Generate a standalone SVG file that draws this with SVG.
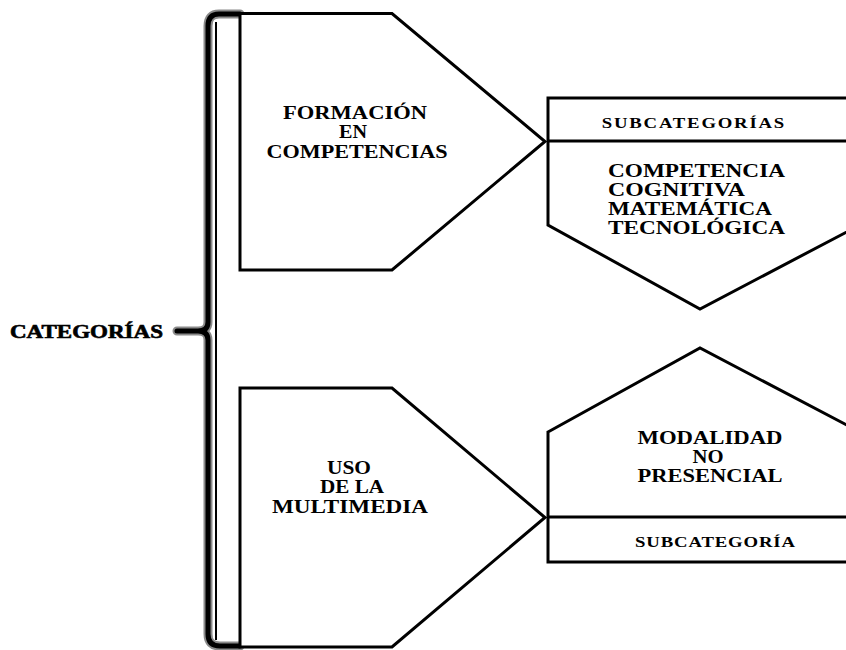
<svg xmlns="http://www.w3.org/2000/svg" width="846" height="650" viewBox="0 0 846 650">
<style>
.shape{fill:#fff;stroke:#000;stroke-width:3;stroke-linejoin:miter}
.line{fill:none;stroke:#000;stroke-width:3}
.t{font-family:"Liberation Serif","Times New Roman",serif;font-weight:bold;fill:#000}
.big{font-size:19px}
.small{font-size:15px}
.brG{fill:none;stroke:#8a8a8a;stroke-width:9;stroke-linejoin:round;stroke-linecap:round}
.brB{fill:none;stroke:#000;stroke-width:5;stroke-linejoin:round;stroke-linecap:round}
</style>
<rect width="846" height="650" fill="#fff"/>
<g id="connectors">
  <path class="brG" d="M240 14 L219 14 Q208 14 208 26 L208 322 Q208 331 198 331 L177 331 M198 331 Q208 331 208 340 L208 634 Q208 646 220 646 L240 646"/>
  <path class="brB" d="M240 14 L219 14 Q208 14 208 26 L208 322 Q208 331 198 331 L177 331 M198 331 Q208 331 208 340 L208 634 Q208 646 220 646 L240 646"/>
  <path fill="none" stroke="#000" stroke-width="2" d="M216 22 L216 640"/>
</g>
<g id="categorias">
  <text class="t" x="10" y="338" font-size="18" stroke="#000" stroke-width="0.6" textLength="153" lengthAdjust="spacingAndGlyphs">CATEGORÍAS</text>
</g>
<g id="formacion">
  <path class="shape" d="M240 13.5 L392 13.5 L545 141.5 L392 270 L240 270 Z"/>
  <text class="t big" x="355" y="119" text-anchor="middle" textLength="144" lengthAdjust="spacingAndGlyphs">FORMACIÓN</text>
  <text class="t big" x="353" y="138" text-anchor="middle" textLength="28" lengthAdjust="spacingAndGlyphs">EN</text>
  <text class="t big" x="357" y="158" text-anchor="middle" textLength="181" lengthAdjust="spacingAndGlyphs">COMPETENCIAS</text>
</g>
<g id="multimedia">
  <path class="shape" d="M240 388 L392 388 L545 517.5 L392 647 L240 647 Z"/>
  <text class="t big" x="349" y="474" text-anchor="middle" textLength="44" lengthAdjust="spacingAndGlyphs">USO</text>
  <text class="t big" x="352" y="493" text-anchor="middle" textLength="64" lengthAdjust="spacingAndGlyphs">DE LA</text>
  <text class="t big" x="350" y="513" text-anchor="middle" textLength="156" lengthAdjust="spacingAndGlyphs">MULTIMEDIA</text>
</g>
<g id="subcategorias">
  <path class="shape" d="M548 98 L860 98 L860 225 L700 309 L548 225 Z"/>
  <path class="line" d="M548 141 L860 141"/>
  <text class="t small" transform="translate(693,128) scale(1.25,1)" x="0" y="0" text-anchor="middle" textLength="146" lengthAdjust="spacing">SUBCATEGORÍAS</text>
  <text class="t big" x="608" y="177" textLength="177" lengthAdjust="spacingAndGlyphs">COMPETENCIA</text>
  <text class="t big" x="608" y="196" textLength="137" lengthAdjust="spacingAndGlyphs">COGNITIVA</text>
  <text class="t big" x="608" y="215" textLength="164" lengthAdjust="spacingAndGlyphs">MATEMÁTICA</text>
  <text class="t big" x="608" y="234" textLength="177" lengthAdjust="spacingAndGlyphs">TECNOLÓGICA</text>
</g>
<g id="subcategoria">
  <path class="shape" d="M548 432 L700 348 L860 432 L860 562 L548 562 Z"/>
  <path class="line" d="M548 517 L860 517"/>
  <text class="t big" x="710" y="444" text-anchor="middle" textLength="145" lengthAdjust="spacingAndGlyphs">MODALIDAD</text>
  <text class="t big" x="708" y="463" text-anchor="middle" textLength="31" lengthAdjust="spacingAndGlyphs">NO</text>
  <text class="t big" x="710" y="482" text-anchor="middle" textLength="145" lengthAdjust="spacingAndGlyphs">PRESENCIAL</text>
  <text class="t small" transform="translate(715,547) scale(1.25,1)" x="0" y="0" text-anchor="middle" textLength="128" lengthAdjust="spacing">SUBCATEGORÍA</text>
</g>
</svg>
